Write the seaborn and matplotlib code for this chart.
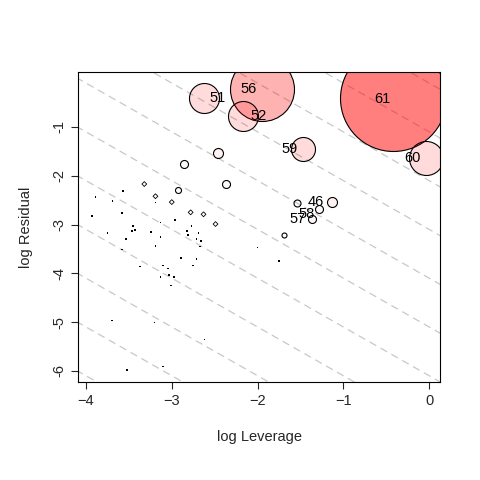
import numpy as np
import pandas as pd
import matplotlib
matplotlib.use("Agg")
import matplotlib.pyplot as plt
import seaborn as sns

# influential points (log leverage, log residual, bubble radius px, fill alpha)
big_x = [-0.42, -1.95, -2.62, -2.17, -1.47, -0.035, -2.46, -2.86, -2.37, -1.13, -1.28, -1.36, -1.54, -1.69, -2.93]
big_y = [-0.41, -0.22, -0.41, -0.77, -1.45, -1.64, -1.53, -1.76, -2.17, -2.54, -2.68, -2.89, -2.56, -3.21, -2.29]
big_r = [53, 32, 15, 15, 12, 17, 5, 4, 4, 5, 4, 4, 3.5, 2.5, 3]
big_a = [0.5, 0.3, 0.14, 0.14, 0.14, 0.14, 0.05, 0.02, 0.02, 0.05, 0.03, 0.03, 0.02, 0.0, 0.0]

# labels
lab_text = ["61", "56", "51", "52", "59", "60", "46", "58", "57"]
lab_x = [-0.54, -2.11, -2.47, -1.99, -1.63, -0.20, -1.32, -1.43, -1.53]
lab_y = [-0.43, -0.22, -0.41, -0.77, -1.45, -1.64, -2.54, -2.78, -2.89]

# tiny diamonds
dia_x = [-3.32, -3.19, -3.00, -2.78, -2.63, -2.49]
dia_y = [-2.17, -2.42, -2.54, -2.75, -2.79, -2.99]

# dots
dot_x = [-3.57, -3.89, -3.69, -3.19, -3.58, -3.93, -2.96, -3.13, -3.45, -2.77, -3.43, -3.46, -3.24, -2.82,
         -3.75, -2.69, -2.81, -3.13, -3.53, -2.71, -2.66, -3.19, -2.67, -2.00, -3.58, -2.89, -2.71, -3.37,
         -3.10, -2.75, -3.04, -3.03, -2.97, -3.13, -3.01, -3.70, -3.20, -2.62, -3.52, -3.10, -1.75]
dot_y = [-2.31, -2.43, -2.52, -2.55, -2.76, -2.82, -2.91, -2.96, -3.03, -3.03, -3.11, -3.13, -3.15, -3.13,
         -3.17, -3.17, -3.21, -3.25, -3.29, -3.30, -3.34, -3.44, -3.45, -3.47, -3.51, -3.68, -3.70, -3.86,
         -3.84, -3.84, -3.90, -4.03, -4.08, -4.07, -4.25, -4.97, -5.01, -5.36, -5.98, -5.91, -3.75]

sns.set_style("white")
plt.rcParams['font.family'] = ['Liberation Sans', 'DejaVu Sans']

fig = plt.figure(figsize=(4.8, 4.8), dpi=100)
ax = fig.add_axes([0.163, 0.204, 0.754, 0.646])

# dashed contour lines x + y = const
xs = np.array([-5, 1])
for c in np.arange(-10.1, 2, 1.0):
    ax.plot(xs, c - xs, ls=(0, (6, 4)), color='#c8c8c8', lw=0.9, zorder=0)

big = pd.DataFrame({"x": big_x, "y": big_y, "r": big_r, "a": big_a})
big = big.sort_values("r", ascending=False)
for _, row in big.iterrows():
    sns.scatterplot(x=[row.x], y=[row.y], s=(row.r * 2 * 0.72) ** 2,
                    color=(1, 0, 0, row.a), edgecolor='black', linewidth=0.8, ax=ax, zorder=2)

sns.scatterplot(x=dia_x, y=dia_y, marker='D', s=6, facecolor='none', edgecolor='black',
                linewidth=0.6, ax=ax, zorder=3)
sns.scatterplot(x=dot_x, y=dot_y, marker='s', s=1.5, color='black', edgecolor='none', ax=ax, zorder=3)

for t, x, y in zip(lab_text, lab_x, lab_y):
    ax.text(x, y, t, ha='center', va='center', fontsize=10.5, color='black', zorder=4)

ax.set_xlim(-4.09, 0.128)
ax.set_ylim(-6.23, 0.127)
ax.set_xticks([-4, -3, -2, -1, 0])
ax.set_yticks([-6, -5, -4, -3, -2, -1])
ax.set_yticklabels([str(v) for v in [-6, -5, -4, -3, -2, -1]], rotation=90, va='center')
ax.tick_params(direction='out', length=5, width=0.8, labelsize=10.5, left=True, bottom=True)
for s in ax.spines.values():
    s.set_color('black')
    s.set_linewidth(0.8)
ax.set_xlabel("log Leverage", fontsize=10.5, labelpad=16)
ax.set_ylabel("log Residual", fontsize=10.5, labelpad=14)

fig.savefig("out.png", dpi=100)
